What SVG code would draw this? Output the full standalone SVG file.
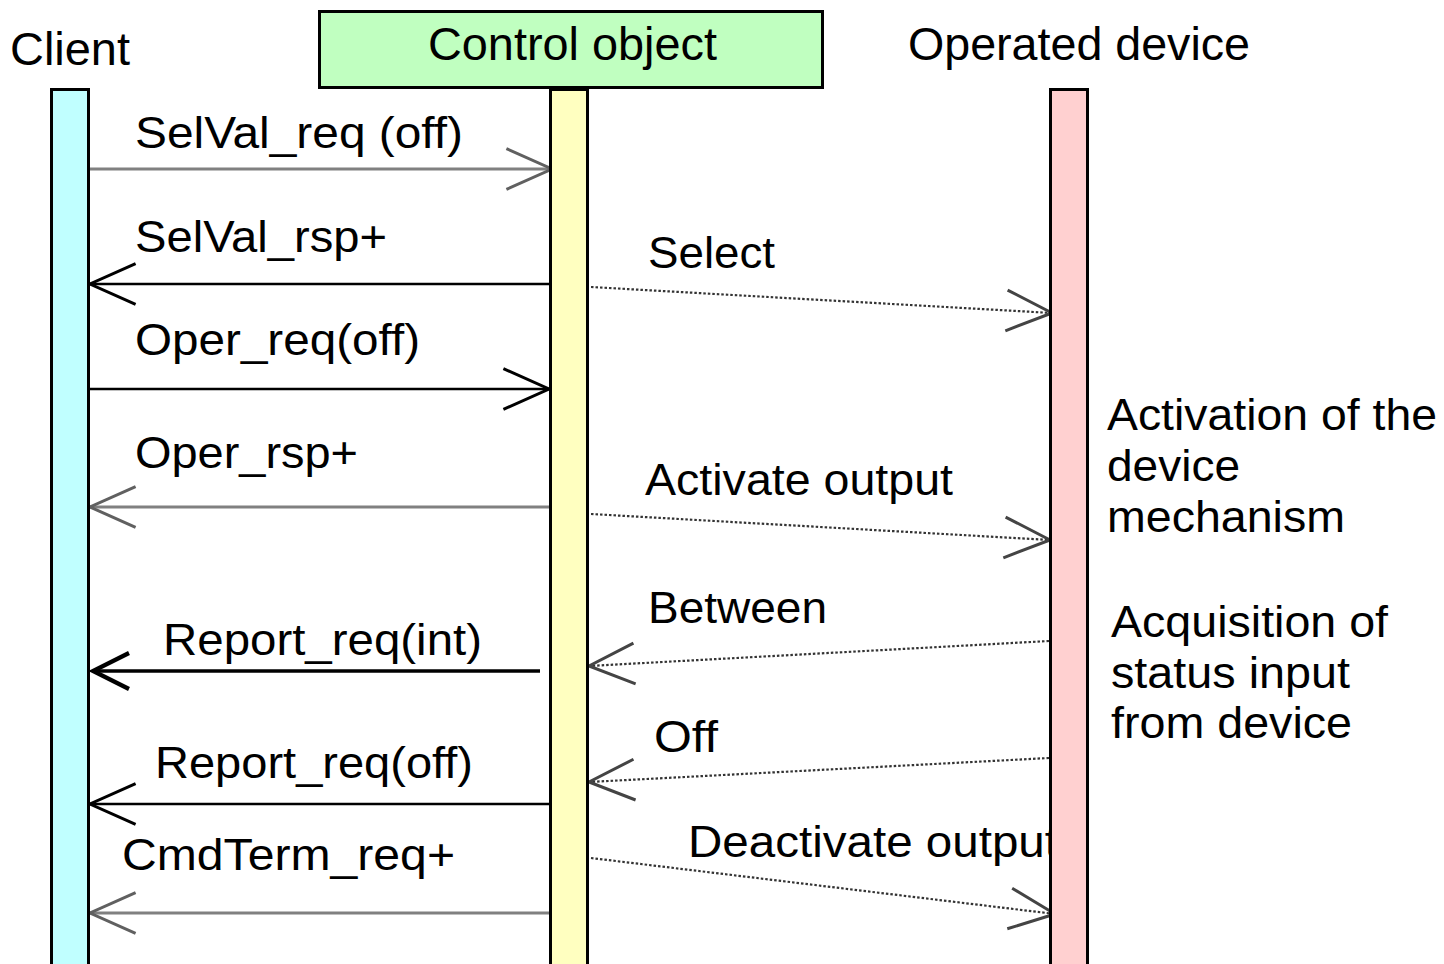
<svg xmlns="http://www.w3.org/2000/svg" width="1444" height="964" viewBox="0 0 1444 964">
<style>
text{font-family:"Liberation Sans",Arial,sans-serif;font-size:45px;fill:#000}
.hdr{font-size:46px}
.bar{stroke:#000;stroke-width:3}
.gray{stroke:#808080;stroke-width:3;fill:none}
.blk{stroke:#000;stroke-width:2.5;fill:none}
.dot{stroke:#333;stroke-width:2.2;stroke-dasharray:2.5 2;fill:none}
</style>
<defs>
<marker id="hg" markerUnits="userSpaceOnUse" markerWidth="60" markerHeight="60" refX="0" refY="0" viewBox="-45 -25 50 50" orient="auto" overflow="visible"><path d="M-38,-17 L0,0 L-38,17" fill="none" stroke="#606060" stroke-width="2.5"/></marker>
<marker id="hb" markerUnits="userSpaceOnUse" markerWidth="60" markerHeight="60" refX="0" refY="0" viewBox="-45 -25 50 50" orient="auto" overflow="visible"><path d="M-38,-17 L0,0 L-38,17" fill="none" stroke="#000" stroke-width="2.5"/></marker>
<marker id="hd" markerUnits="userSpaceOnUse" markerWidth="60" markerHeight="60" refX="0" refY="0" viewBox="-45 -25 50 50" orient="auto" overflow="visible"><path d="M-38,-17 L0,0 L-38,17" fill="none" stroke="#444" stroke-width="2.5"/></marker>
<marker id="hs" markerUnits="userSpaceOnUse" markerWidth="60" markerHeight="60" refX="0" refY="0" viewBox="-45 -25 50 50" orient="auto" overflow="visible"><path d="M-30,-15 L0,0 L-30,15" fill="none" stroke="#000" stroke-width="3.5"/></marker>
</defs>
<rect width="1444" height="964" fill="#fff"/>
<g id="connectors">
<line class="gray" x1="90" y1="169" x2="552" y2="169" marker-end="url(#hg)"/>
<text x="135" y="148" textLength="328" lengthAdjust="spacingAndGlyphs">SelVal_req (off)</text>
<line class="blk" x1="549" y1="284" x2="90" y2="284" marker-end="url(#hb)"/>
<text x="135" y="252" textLength="252" lengthAdjust="spacingAndGlyphs">SelVal_rsp+</text>
<line class="dot" x1="591" y1="287" x2="1052" y2="313" marker-end="url(#hd)"/>
<text x="648" y="268" textLength="127" lengthAdjust="spacingAndGlyphs">Select</text>
<line class="blk" x1="90" y1="389" x2="549" y2="389" marker-end="url(#hb)"/>
<text x="135" y="355" textLength="285" lengthAdjust="spacingAndGlyphs">Oper_req(off)</text>
<line class="gray" x1="549" y1="507" x2="90" y2="507" marker-end="url(#hg)"/>
<text x="135" y="468" textLength="223" lengthAdjust="spacingAndGlyphs">Oper_rsp+</text>
<line class="dot" x1="591" y1="514" x2="1050" y2="540" marker-end="url(#hd)"/>
<text x="645" y="495" textLength="308" lengthAdjust="spacingAndGlyphs">Activate output</text>
<line class="dot" x1="1049" y1="641" x2="589" y2="666" marker-end="url(#hd)"/>
<text x="648" y="623" textLength="179" lengthAdjust="spacingAndGlyphs">Between</text>
<line x1="540" y1="671" x2="93" y2="671" stroke="#000" stroke-width="3.5" marker-end="url(#hs)"/>
<text x="163" y="655" textLength="319" lengthAdjust="spacingAndGlyphs">Report_req(int)</text>
<line class="dot" x1="1049" y1="758" x2="589" y2="782" marker-end="url(#hd)"/>
<text x="654" y="752" textLength="64" lengthAdjust="spacingAndGlyphs">Off</text>
<line class="blk" x1="549" y1="804" x2="90" y2="804" marker-end="url(#hb)"/>
<text x="155" y="778" textLength="318" lengthAdjust="spacingAndGlyphs">Report_req(off)</text>
<line class="gray" x1="549" y1="913" x2="90" y2="913" marker-end="url(#hg)"/>
<text x="122" y="870" textLength="333" lengthAdjust="spacingAndGlyphs">CmdTerm_req+</text>
<line class="dot" x1="591" y1="858" x2="1055" y2="914" marker-end="url(#hd)"/>
<text x="688" y="857" textLength="370" lengthAdjust="spacingAndGlyphs">Deactivate output</text>
</g>
<g id="client">
<rect class="bar" x="51.5" y="89.5" width="37" height="880" fill="#c0ffff"/>
<text class="hdr" x="10" y="65" textLength="120" lengthAdjust="spacingAndGlyphs">Client</text>
</g>
<g id="control">
<rect class="bar" x="319.5" y="11.5" width="503" height="76" fill="#c0ffc0"/>
<text class="hdr" x="428" y="60" textLength="289" lengthAdjust="spacingAndGlyphs">Control object</text>
<rect class="bar" x="550.5" y="89.5" width="37" height="880" fill="#ffffc0"/>
</g>
<g id="device">
<rect class="bar" x="1050.5" y="89.5" width="37" height="880" fill="#ffd0d0"/>
<text class="hdr" x="908" y="60" textLength="342" lengthAdjust="spacingAndGlyphs">Operated device</text>
<text x="1107" y="430" textLength="330" lengthAdjust="spacingAndGlyphs">Activation of the</text>
<text x="1107" y="481" textLength="133" lengthAdjust="spacingAndGlyphs">device</text>
<text x="1107" y="532" textLength="238" lengthAdjust="spacingAndGlyphs">mechanism</text>
<text x="1111" y="637" textLength="277" lengthAdjust="spacingAndGlyphs">Acquisition of</text>
<text x="1111" y="688" textLength="239" lengthAdjust="spacingAndGlyphs">status input</text>
<text x="1111" y="738" textLength="241" lengthAdjust="spacingAndGlyphs">from device</text>
</g>
</svg>
